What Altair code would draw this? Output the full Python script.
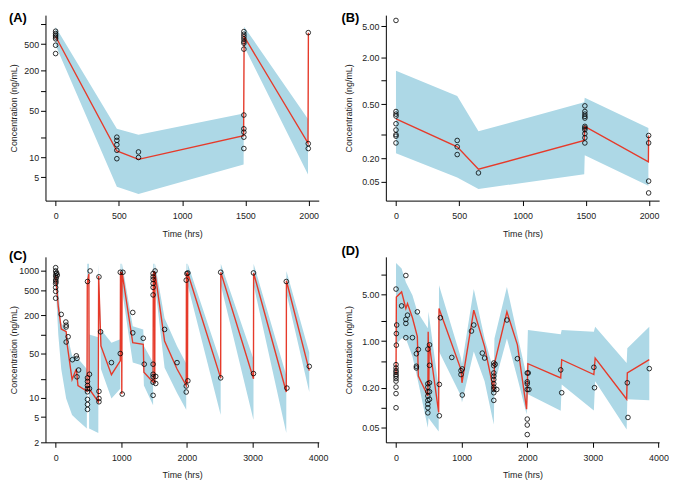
import altair as alt
import pandas as pd

# ---------------- Panel A ----------------
A_obs_t = [0, 0, 0, 0, 0, 0, 0,
           484, 484, 484, 484, 484,
           655, 655,
           1488, 1488, 1488, 1488, 1488, 1488, 1488, 1488, 1488, 1488, 1488, 1488,
           1997, 1997, 1997]
A_obs_c = [780, 720, 680, 640, 600, 480, 360,
           20, 17.9, 15.4, 12.7, 9.5,
           12, 9.9,
           770, 703, 649, 598, 546, 516, 420, 43, 26.7, 23.8, 20, 13.5,
           743, 16, 13.5]
A_med_t = [0, 484, 655, 1486, 1490, 1995, 1998]
A_med_c = [650, 12.4, 9.3, 21, 650, 16.3, 740]
A_band_t = [0, 484, 655, 1486, 1490, 1995]
A_band_lo = [480, 3.6, 2.8, 7.8, 460, 5.5]
A_band_hi = [900, 26.7, 21.7, 45.5, 912, 37.5]

# ---------------- Panel B ----------------
B_obs_t = [0, 0, 0, 0, 0, 0, 0, 0, 0,
           484, 484, 484,
           652,
           1493, 1493, 1493, 1493, 1493, 1493, 1493, 1493, 1493, 1493, 1493,
           1997, 1997, 1997, 1997]
B_obs_c = [5.96, 0.401, 0.371, 0.35, 0.279, 0.232, 0.202, 0.193, 0.158,
           0.170, 0.141, 0.112,
           0.065,
           0.474, 0.401, 0.371, 0.347, 0.330, 0.258, 0.246, 0.234, 0.208, 0.184, 0.158,
           0.197, 0.158, 0.051, 0.0359]
B_med_t = [0, 484, 652, 1488, 1492, 1995, 1997]
B_med_c = [0.323, 0.141, 0.0724, 0.170, 0.258, 0.090, 0.197]
B_band_t = [0, 484, 652, 1488, 1492, 1995]
B_band_lo = [0.116, 0.0567, 0.0403, 0.0627, 0.110, 0.0445]
B_band_hi = [1.34, 0.636, 0.223, 0.527, 0.605, 0.246]

# ---------------- Panel C ----------------
C_obs_t = [0, 0, 5, 0, 10, 0, 5, 0, 0, 0, 0, 25, 15,
           85, 155, 160, 160, 190, 160,
           255, 315, 325, 350, 325,
           485, 485, 485, 485, 485, 485, 485, 485, 485,
           525, 515, 515,
           660, 660, 660, 660,
           685, 850,
           985, 985, 1025, 1015,
           1175, 1175, 1335, 1350,
           1485, 1485, 1485, 1485, 1485, 1485, 1485, 1485, 1485, 1485, 1485,
           1515, 1525, 1525,
           1660, 1850,
           1990, 2000, 2015, 1990, 1990, 2015,
           2515, 2515, 3015, 3015, 3515, 3525, 3865]
C_obs_c = [1127, 1000, 910, 835, 780, 720, 675, 635, 550, 477, 372, 860, 930,
           207, 157, 140, 131, 92, 76,
           40, 46, 42, 27.5, 21.5,
           682, 20.7, 18.2, 15.7, 14, 12.5, 9.5, 7.9, 6.6,
           1000, 23.6, 14,
           807, 12.7, 9.8, 8.7,
           110, 36,
           953, 50, 953, 11.5,
           222, 106, 87, 34,
           910, 807, 733, 636, 551, 419, 34, 23.6, 21.5, 17.7, 11,
           1000, 16.9, 21.8,
           120, 36,
           716, 910, 930, 15.4, 12.4, 18.6,
           953, 20.7, 931, 24.2, 682, 14.3, 31.4]
C_med_t = [0, 40, 85, 160, 175, 250, 315, 340, 478, 482, 506, 510, 650, 655, 690,
           850, 985, 988, 1005, 1008, 1012, 1175, 1335, 1345, 1485, 1488, 1506,
           1510, 1514, 1660, 1850, 1990, 1993, 2006, 2009, 2013, 2515, 2517,
           3015, 3017, 3515, 3517, 3865]
C_med_c = [850, 276, 122, 111, 70, 19.5, 28.6, 15.7, 12.7, 650, 900, 14, 8.7, 830, 66,
           23.3, 38.5, 950, 950, 11.5, 950, 74, 70, 25.4, 17.7, 900, 1000,
           17, 950, 79, 28.6, 15.7, 900, 930, 17, 930, 20.5, 950,
           20, 930, 12.4, 700, 27]
C_band_t = [0, 40, 85, 160, 250, 330, 475, 482, 506, 510, 650, 655, 690, 850, 985,
            988, 1005, 1008, 1012, 1175, 1335, 1345, 1485, 1488, 1506, 1510, 1514,
            1660, 1850, 1990, 1993, 2006, 2009, 2013, 2515, 2517, 3015, 3017,
            3515, 3517, 3865]
C_band_lo = [600, 100, 28.6, 9.8, 5.4, 4.5, 3.3, 500, 600, 3.3, 2.8, 500, 28.6, 9.8, 14,
             500, 500, 9, 500, 36, 32, 15.7, 7.7, 500, 600, 8, 600,
             30, 12, 6.5, 600, 600, 7, 600, 5.4, 600, 4.5, 600,
             2.8, 450, 12.4]
C_band_hi = [1250, 500, 152, 120, 46, 43, 28.6, 1300, 1300, 100, 90, 1300, 120, 74, 84,
             1300, 1300, 60, 1300, 135, 120, 66, 36, 1300, 1300, 40, 1300,
             180, 65, 35, 1300, 1300, 40, 1300, 36, 1300, 41, 1300,
             22.5, 1000, 52]

# ---------------- Panel D ----------------
D_obs_t = [0, 10, 5, 5, 0, 0, 0, 0, 0, 0, 0, 0, 0, 0, 0,
           85, 150, 150, 150, 150, 175, 250, 325, 310, 340, 310, 310,
           485, 485, 485, 485, 485, 485, 485, 485, 485,
           510, 510, 510, 510, 510,
           660, 660, 675, 850,
           990, 990, 1010, 1010,
           1150, 1185, 1315, 1350,
           1490, 1490, 1490, 1490, 1490, 1490, 1490, 1490, 1490, 1490,
           1510, 1535, 1690, 1850,
           2000, 2000, 2000, 2000, 2000, 2000, 2000, 2025, 2015,
           2510, 2525, 3015, 3025, 3525, 3535, 3860]
D_obs_c = [6.07, 1.75, 1.30, 0.871, 0.444, 0.396, 0.361, 0.341, 0.315, 0.298, 0.275, 0.251, 0.204, 0.163, 0.10,
           3.39, 9.7, 2.12, 1.85, 1.13, 2.46, 1.13, 2.76, 0.647, 0.751, 0.42, 0.396,
           0.76, 0.229, 0.204, 0.174, 0.150, 0.129, 0.113, 0.10, 0.0838,
           0.88, 0.434, 0.237, 0.174, 0.134,
           0.224, 0.0757, 2.25, 0.570,
           0.361, 0.315, 0.383, 0.155,
           1.42, 1.75, 0.662, 0.558,
           0.47, 0.428, 0.333, 0.298, 0.265, 0.229, 0.204, 0.188, 0.168, 0.129,
           0.45, 0.188, 2.08, 0.546,
           0.333, 0.245, 0.229, 0.188, 0.0675, 0.055, 0.0395, 0.188, 0.333,
           0.37, 0.168, 0.405, 0.20, 0.237, 0.0714, 0.387]
D_med_t = [0, 5, 85, 150, 175, 250, 325, 340, 485, 490, 500, 505, 650, 655,
           990, 1005, 1185, 1350, 1490, 1500, 1690, 1850, 1990, 2010,
           2510, 2525, 3015, 3035, 3515, 3525, 3860]
D_med_c = [0.315, 4.6, 5.5, 3.1, 3.67, 2.25, 1.17, 0.298, 0.150, 1.39, 0.22, 0.93, 0.085, 3.1,
           0.374, 0.237, 2.93, 0.83, 0.178, 0.46, 2.76, 0.88, 0.095, 0.459,
           0.281, 0.527, 0.315, 0.558, 0.134, 0.333, 0.527]
D_band_t = [0, 85, 150, 250, 325, 485, 495, 650, 655, 990, 1005, 1185, 1350, 1490, 1500,
            1690, 1850, 1990, 2010, 2510, 2525, 3015, 3035, 3515, 3525, 3860]
D_band_lo = [0.9, 1.1, 1.1, 0.59, 0.28, 0.05, 0.07, 0.044, 0.70, 0.15, 0.12, 0.70, 0.25, 0.056, 0.225,
             1.1, 0.28, 0.08, 0.159, 0.0897, 0.224, 0.091, 0.25, 0.047, 0.134, 0.130]
D_band_hi = [15, 12.4, 7.7, 4.9, 2.76, 1.56, 2.76, 0.2, 6.9, 0.56, 0.45, 6.1, 1.1, 0.353, 1.1,
             6.5, 1.24, 0.3, 1.47, 1.27, 1.47, 1.39, 1.65, 0.47, 0.786, 1.65]

# ---------------- Axes ----------------
X_TICKS_SHORT = [0, 500, 1000, 1500, 2000]
X_TICKS_LONG = [0, 1000, 2000, 3000, 4000]
A_yticks = [5, 10, 20, 50, 100, 200, 500, 1000]
A_ylabels = ["5", "10", "", "50", "", "200", "500", ""]
B_yticks = [0.05, 0.1, 0.2, 0.5, 1, 2, 5]
B_ylabels = ["0.05", "0.20", "", "0.50", "", "2.00", "5.00"]
C_yticks = [2, 5, 10, 20, 50, 100, 200, 500, 1000]
C_ylabels = ["2", "5", "10", "", "50", "", "200", "500", "1000"]
D_yticks = [0.05, 0.1, 0.2, 0.5, 1, 2, 5, 10]
D_ylabels = ["0.05", "", "0.20", "", "1.00", "", "5.00", ""]

FONT = "Liberation Sans"
RED = "#E63A2A"
BLUE = "#ADD8E6"
TXT = "#222222"
W, H = 277, 188


def label_expr(vals, labs):
    expr = "''"
    for v, lab in reversed(list(zip(vals, labs))):
        expr = f"abs(datum.value - {v}) < {v * 1e-6} ? '{lab}' : ({expr})"
    return expr


def panel(letter, obs_t, obs_c, med_t, med_c, band_t, lo, hi,
          xdom, xvals, ydom, yvals, ylabs, title_x, letter_x, letter_y):
    obs = pd.DataFrame({"t": obs_t, "c": obs_c})
    med = pd.DataFrame({"t": med_t, "c": med_c, "o": list(range(len(med_t)))})
    band = pd.DataFrame({"t": band_t, "lo": lo, "hi": hi})
    xscale = alt.Scale(domain=xdom, nice=False, zero=False)
    yscale = alt.Scale(type="log", domain=ydom, nice=False)
    xaxis = alt.Axis(values=xvals, format="d", title="Time (hrs)", labelFlush=False,
                     labelOverlap=False, tickSize=5, labelPadding=6,
                     titleY=33, titleBaseline="middle", titleFontWeight="normal")
    yaxis = alt.Axis(values=yvals, labelExpr=label_expr(yvals, ylabs),
                     title="Concentration (ng/mL)", labelOverlap=False, labelFlush=False,
                     tickSize=5, labelPadding=2, titleX=title_x, titleY=H / 2,
                     titleBaseline="middle", titleAngle=270, titleFontWeight="normal")
    area = alt.Chart(band).mark_area(color=BLUE, opacity=1).encode(
        x=alt.X("t:Q", scale=xscale, axis=xaxis),
        y=alt.Y("lo:Q", scale=yscale, axis=yaxis),
        y2="hi:Q")
    line = alt.Chart(med).mark_line(color=RED, strokeWidth=1.4).encode(
        x="t:Q", y="c:Q", order="o:Q")
    pts = alt.Chart(obs).mark_point(shape="circle", filled=False, color="black",
                                    size=22, strokeWidth=0.8, opacity=1).encode(
        x="t:Q", y="c:Q")
    lab = alt.Chart(pd.DataFrame({"l": [letter]})).mark_text(
        align="left", baseline="middle", fontSize=13, fontWeight="bold",
        font=FONT, color="black").encode(
        x=alt.value(letter_x), y=alt.value(letter_y), text="l:N")
    return alt.layer(area, line, pts, lab).properties(width=W, height=H)


pA = panel("(A)", A_obs_t, A_obs_c, A_med_t, A_med_c, A_band_t, A_band_lo, A_band_hi,
           [-80, 2080], X_TICKS_SHORT, [2.23, 1360], A_yticks, A_ylabels, -32, -37, 3)
pB = panel("(B)", B_obs_t, B_obs_c, B_med_t, B_med_c, B_band_t, B_band_lo, B_band_hi,
           [-80, 2080], X_TICKS_SHORT, [0.0286, 6.97], B_yticks, B_ylabels, -38, -45, 3)
pC = panel("(C)", C_obs_t, C_obs_c, C_med_t, C_med_c, C_band_t, C_band_lo, C_band_hi,
           [-155, 4010], X_TICKS_LONG, [2.0, 1667], C_yticks, C_ylabels, -32, -37, -1)
pD = panel("(D)", D_obs_t, D_obs_c, D_med_t, D_med_c, D_band_t, D_band_lo, D_band_hi,
           [-155, 4010], X_TICKS_LONG, [0.0302, 18.5], D_yticks, D_ylabels, -38, -45, -6)

chart = alt.concat(pA, pB, pC, pD, columns=2, spacing={"row": 57, "column": 68},
                   bounds="flush").properties(
    padding=0
).configure_axis(
    domainColor="black", tickColor="black", labelColor=TXT, titleColor=TXT,
    labelFont=FONT, titleFont=FONT, labelFontSize=9, titleFontSize=9,
    titleFontWeight="normal", grid=False, domainWidth=1, tickWidth=1
).configure_view(stroke="transparent")

chart.save("out.html", embed_options={"renderer": "svg", "actions": False})
